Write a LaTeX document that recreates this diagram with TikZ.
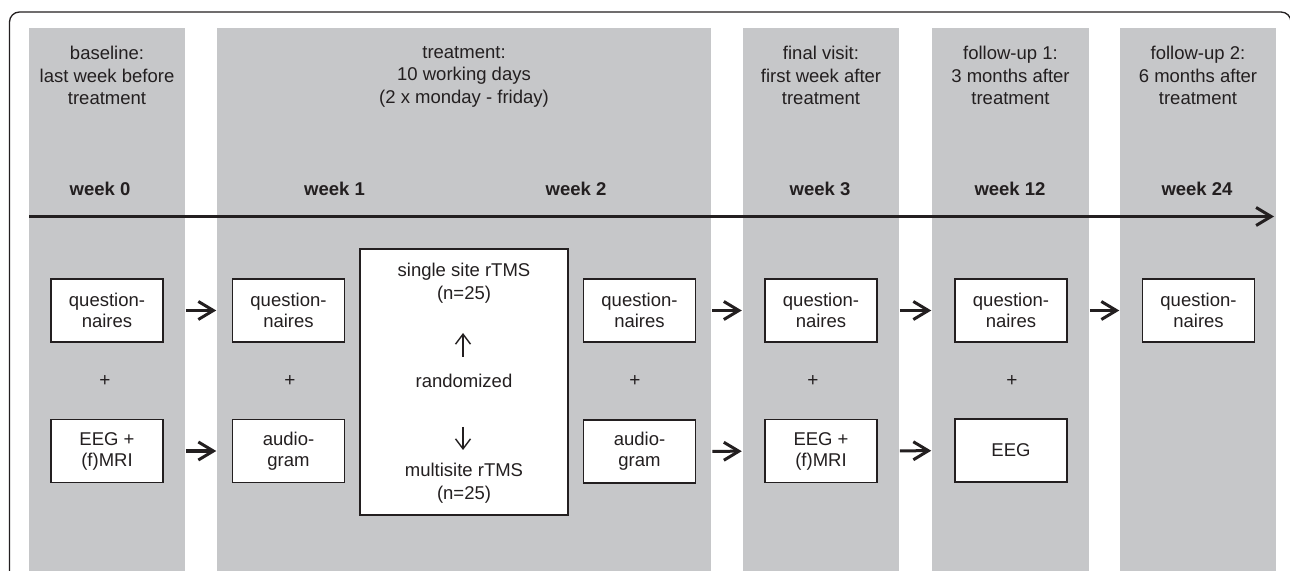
\documentclass[tikz,border=0pt]{standalone}
\usepackage{fontspec}
\setmainfont{Liberation Sans}
\usetikzlibrary{arrows.meta}
\definecolor{colgrey}{RGB}{198,199,201}
\definecolor{ink}{RGB}{35,31,32}
\begin{document}
\begin{tikzpicture}[x=0.5pt,y=-0.5pt,
  phase/.style={fill=colgrey, draw=none},
  stagebox/.style={draw=ink, line width=0.75pt, fill=white, minimum width=56pt, minimum height=31.5pt, inner sep=0pt, align=center, font=\fontsize{9.25pt}{10.5pt}\selectfont, text=ink},
  bigbox/.style={draw=ink, line width=0.75pt, fill=white, minimum width=104pt, minimum height=133pt, inner sep=0pt},
  hdr/.style={align=center, inner sep=0pt, font=\fontsize{9.25pt}{11.25pt}\selectfont, text=ink},
  wk/.style={inner sep=0pt, font=\fontsize{9.25pt}{11.25pt}\selectfont\bfseries, text=ink},
  plus/.style={inner sep=0pt, font=\fontsize{9.5pt}{11.25pt}\selectfont, text=ink},
  bigarrow/.style={draw=ink, line width=1.5pt, -{Straight Barb[length=7.5pt,width=9pt]}},
  thinarrow/.style={draw=ink, line width=0.7pt, -{Straight Barb[length=5pt,width=7.5pt]}}
]
\useasboundingbox (0,0) rectangle (1290,571);
% frame
\draw[ink, line width=0.65pt, rounded corners=5pt] (9.5,12) rectangle (1291,650);
% phase columns
\fill[phase] (29,28) rectangle (185,600);
\fill[phase] (217,28) rectangle (711,600);
\fill[phase] (743,28) rectangle (899,600);
\fill[phase] (932,28) rectangle (1089,600);
\fill[phase] (1120,28) rectangle (1276,600);
% headers
\node[hdr, anchor=north] (h0) at (107,46) {baseline:\\last week before\\treatment};
\node[hdr, anchor=north] (h1) at (464,46) {treatment:\\10 working days\\(2 x monday - friday)};
\node[hdr, anchor=north] (h3) at (821,46) {final visit:\\first week after\\treatment};
\node[hdr, anchor=north] (h4) at (1010.5,46) {follow-up 1:\\3 months after\\treatment};
\node[hdr, anchor=north] (h5) at (1198,46) {follow-up 2:\\6 months after\\treatment};
% week labels
\node[wk, anchor=base] (w0) at (100,196) {week 0};
\node[wk, anchor=base] (w1) at (334.5,196) {week 1};
\node[wk, anchor=base] (w2) at (576,196) {week 2};
\node[wk, anchor=base] (w3) at (820,196) {week 3};
\node[wk, anchor=base] (w12) at (1010,196) {week 12};
\node[wk, anchor=base] (w24) at (1197,196) {week 24};
% timeline
\coordinate (tlS) at (29,216.5);
\coordinate (tlE) at (1274,216.5);
\draw[bigarrow] (tlS) -- (tlE);
% boxes
\node[stagebox] (q0) at (107,310.5) {question-\\naires};
\node[stagebox] (e0) at (107,451) {EEG +\\(f)MRI};
\node[plus] (p0) at (105,381) {+};
\node[stagebox] (q1) at (288.5,310.5) {question-\\naires};
\node[stagebox] (a1) at (288.5,451) {audio-\\gram};
\node[plus] (p1) at (290,381) {+};
\node[bigbox] (rtms) at (464,382) {};
\node[hdr, anchor=north] (single) at (464,263) {single site rTMS\\(n=25)};
\node[hdr] (rand) at (464,381) {randomized};
\node[hdr, anchor=north] (multi) at (464,463) {multisite rTMS\\(n=25)};
\coordinate (upS) at (463,357);
\coordinate (upE) at (463,333);
\coordinate (dnS) at (463,427);
\coordinate (dnE) at (463,450);
\draw[thinarrow] (upS) -- (upE);
\draw[thinarrow] (dnS) -- (dnE);
\node[stagebox] (q2) at (639.5,310.5) {question-\\naires};
\node[stagebox] (a2) at (639.5,451.5) {audio-\\gram};
\node[plus] (p2) at (635,381) {+};
\node[stagebox] (q3) at (821,310.5) {question-\\naires};
\node[stagebox] (e3) at (821,451) {EEG +\\(f)MRI};
\node[plus] (p3) at (813,381) {+};
\node[stagebox] (q4) at (1011,310.5) {question-\\naires};
\node[stagebox] (e4) at (1011,450.5) {EEG};
\node[plus] (p4) at (1012,381) {+};
\node[stagebox] (q5) at (1198.5,310.5) {question-\\naires};
% connectors
\draw[bigarrow, shorten <=11pt, shorten >=7.75pt] (q0) -- (q1);
\draw[bigarrow, shorten <=11pt, shorten >=7.75pt] (e0) -- (a1);
\draw[bigarrow, shorten <=8pt, shorten >=11.25pt] (q2) -- (q3);
\draw[bigarrow, shorten <=8pt, shorten >=11.25pt] (a2) -- (e3);
\draw[bigarrow, shorten <=11pt, shorten >=11.5pt] (q3) -- (q4);
\draw[bigarrow, shorten <=11pt, shorten >=11.5pt] (e3) -- (e4);
\draw[bigarrow, shorten <=11pt, shorten >=11.25pt] (q4) -- (q5);
\end{tikzpicture}
\end{document}
